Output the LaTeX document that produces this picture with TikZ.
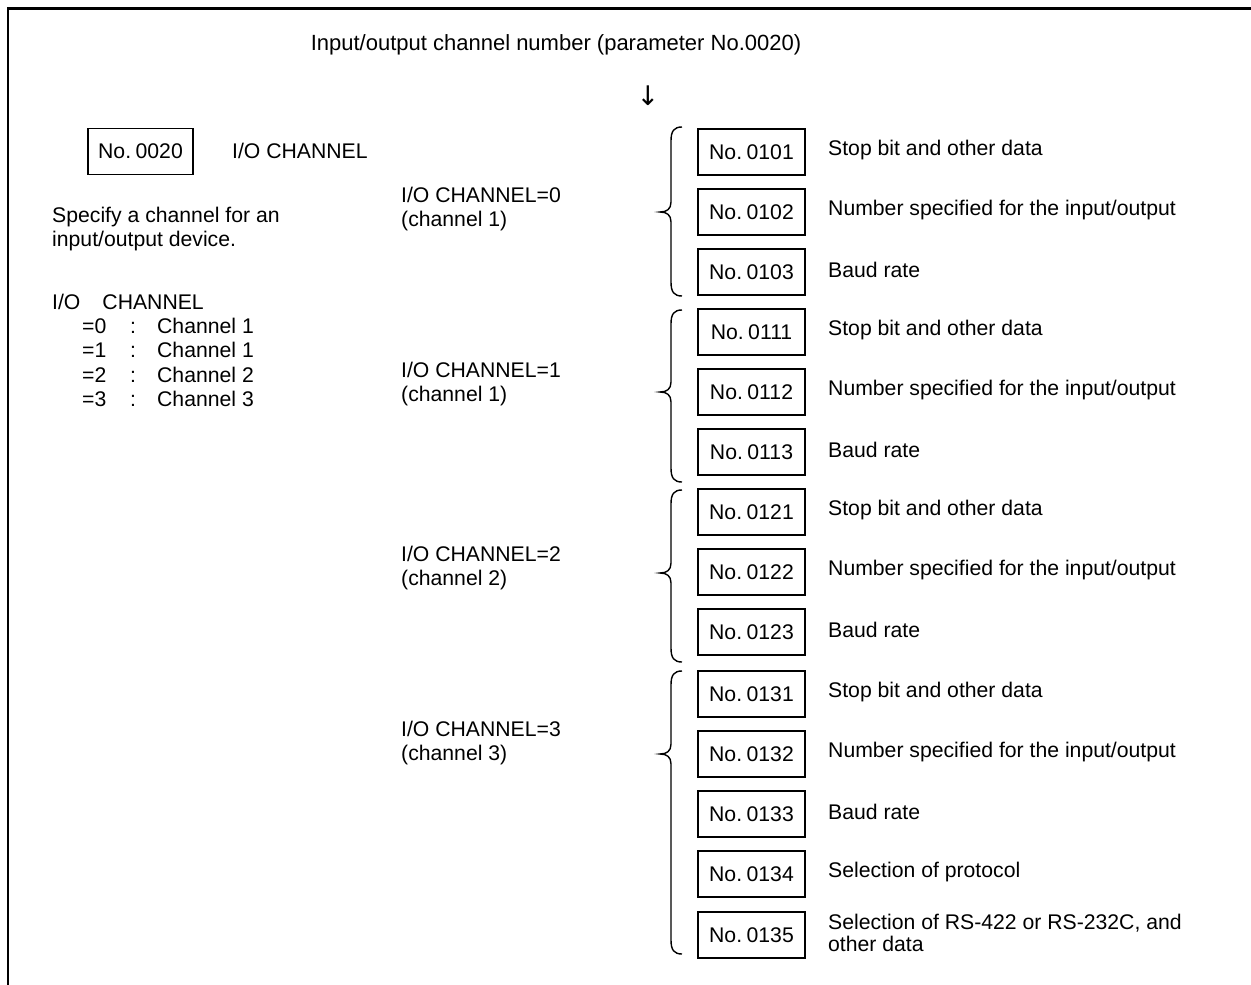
\documentclass[tikz,border=0pt]{standalone}
\usepackage{fontspec}
\setmainfont{Liberation Sans}
\newfontfamily\arrowfont{DejaVu Sans}
\newcommand\mybrace[3]{%
  \draw[bracepath] (682,#1) .. controls (674,#1) and (671,#1+4) .. (671,#1+14)
    -- (671,#2-10) .. controls (671,#2-3) and (667,#2) .. (660,#2)
    .. controls (667,#2) and (671,#2+3) .. (671,#2+10)
    -- (671,#3-14) .. controls (671,#3-4) and (674,#3) .. (682,#3);}
\begin{document}
\begin{tikzpicture}[x=1pt,y=-1pt,
  every node/.style={font=\fontsize{21.2}{24}\selectfont, inner sep=0pt},
  parbox/.style={draw, line width=1.3pt, minimum width=107pt, minimum height=46pt},
  lbl/.style={anchor=west, align=left},
  frameline/.style={line width=2.5pt, line join=miter},
  bracepath/.style={line width=1.4pt}]
\useasboundingbox (0,0) rectangle (1251,985);
\draw[frameline] (8,985) -- (8,8.5) -- (1251,8.5);

\node[font=\fontsize{22}{24}\selectfont] (title) at (556,45) {Input/output channel number (parameter No.0020)};
\node[font=\arrowfont\fontsize{27}{28}\selectfont] (arr) at (648,96) {↓};

\node[parbox, minimum width=105pt] (p0020) at (140.5,151.5) {No.\hspace{4.5pt}0020};
\node[lbl] (ioch) at (232,151) {I/O CHANNEL};
\node[lbl] (spec) at (52,229) {Specify a channel for an\\input/output device.};
\node[lbl] (listhead) at (52,302) {I/O\hspace{22pt}CHANNEL};
\foreach \v/\c/\y in {0/1/326,1/1/350,2/2/375,3/3/399}{
  \node[lbl] (row\v) at (82,\y) {\makebox[48pt][l]{=\v}\makebox[27pt][l]{:}Channel \c};
}

\node[lbl] (g0) at (401,209) {I/O CHANNEL=0\\(channel 1)};
\node[lbl] (g1) at (401,384) {I/O CHANNEL=1\\(channel 1)};
\node[lbl] (g2) at (401,568) {I/O CHANNEL=2\\(channel 2)};
\node[lbl] (g3) at (401,743) {I/O CHANNEL=3\\(channel 3)};

\foreach \n/\y/\d in {
  0101/152/{Stop bit and other data},
  0102/212/{Number specified for the input/output},
  0103/272/{Baud rate},
  0111/332/{Stop bit and other data},
  0112/392/{Number specified for the input/output},
  0113/452/{Baud rate},
  0121/512/{Stop bit and other data},
  0122/572/{Number specified for the input/output},
  0123/632/{Baud rate},
  0131/694/{Stop bit and other data},
  0132/754/{Number specified for the input/output},
  0133/814/{Baud rate},
  0134/874/{Selection of protocol}}{
  \node[parbox] (b\n) at (751.5,\y) {No.\hspace{4.5pt}\n};
  \node[lbl] (d\n) at (828,\y-2) {\d};
}
\node[parbox] (b0135) at (751.5,935) {No.\hspace{4.5pt}0135};
\node[lbl, font=\fontsize{21.2}{22}\selectfont] (d0135) at (828,933) {Selection of RS-422 or RS-232C, and\\other data};

\mybrace{127}{212}{296}
\mybrace{310}{392}{482}
\mybrace{490}{573}{662}
\mybrace{671}{754}{954}
\end{tikzpicture}
\end{document}
